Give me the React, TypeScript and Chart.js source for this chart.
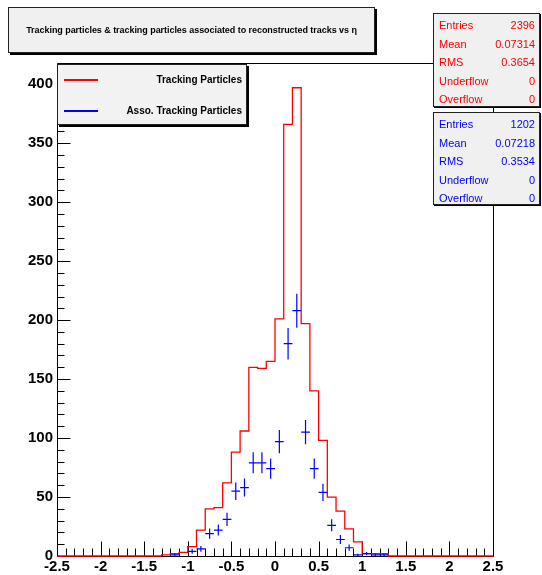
import React, { useEffect, useRef } from "react";
import { Chart, registerables } from "chart.js";

Chart.register(...registerables);

const TITLE = "Tracking particles & tracking particles associated to reconstructed tracks vs η";
const seriesLabels = ["Tracking Particles", "Asso. Tracking Particles"];
const seriesColors = ["#ff0000", "#0000ff"];

const binWidth = 0.1;
// Tracking particles: left edge of each non-empty bin and its count
const trackingBinLow = [-1.3, -1.2, -1.1, -1.0, -0.9, -0.8, -0.7, -0.6, -0.5, -0.4, -0.3, -0.2, -0.1, 0.0, 0.1, 0.2, 0.3, 0.4, 0.5, 0.6, 0.7, 0.8, 0.9, 1.0, 1.1, 1.2];
const trackingCounts = [1, 2, 3, 8, 22, 40, 41, 62, 88, 106, 160, 159, 165, 201, 366, 397, 197, 140, 98, 50, 38, 23, 12, 2, 2, 2];
// Associated tracking particles: bin centre and count
const assocBinCenter = [-1.15, -0.95, -0.85, -0.75, -0.65, -0.55, -0.45, -0.35, -0.25, -0.15, -0.05, 0.05, 0.15, 0.25, 0.35, 0.45, 0.55, 0.65, 0.75, 0.85, 0.95, 1.05, 1.15, 1.25];
const assocCounts = [1, 4, 6, 19, 22, 31, 55, 58, 79, 79, 74, 97, 180, 208, 105, 74, 54, 26, 14, 7, 1, 2, 1, 1];

const xMin = -2.5;
const xMax = 2.5;
const yMin = 0;
const yMax = 418;
const xTickValues = [-2.5, -2, -1.5, -1, -0.5, 0, 0.5, 1, 1.5, 2, 2.5];
const yTickValues = [0, 50, 100, 150, 200, 250, 300, 350, 400];
const xMinorStep = 0.1;
const yMinorStep = 10;

const statNames = ["Entries", "Mean", "RMS", "Underflow", "Overflow"];
const trackingStats = ["2396", "0.07314", "0.3654", "0", "0"];
const assocStats = ["1202", "0.07218", "0.3534", "0", "0"];

const FONT = '"Liberation Sans", Arial, Helvetica, sans-serif';

const framePlugin = {
  id: "rootFrame",
  beforeDatasetsDraw(chart: any) {
    const { ctx, chartArea: a, scales } = chart;
    const xs = scales.x;
    const ys = scales.y;
    const L = Math.round(a.left) + 0.5;
    const R = Math.round(a.right) + 0.5;
    const T = Math.round(a.top) + 0.5;
    const B = Math.round(a.bottom) + 0.5;
    ctx.save();
    ctx.strokeStyle = "#000";
    ctx.lineWidth = 1;
    ctx.beginPath();
    ctx.rect(L, T, R - L, B - T);
    ctx.stroke();
    ctx.beginPath();
    const nx = Math.round((xMax - xMin) / xMinorStep);
    for (let i = 0; i <= nx; i++) {
      const v = xMin + i * xMinorStep;
      const px = Math.round(xs.getPixelForValue(v)) + 0.5;
      const len = i % 5 === 0 ? 15 : 8;
      ctx.moveTo(px, B);
      ctx.lineTo(px, B - len);
    }
    const ny = Math.floor((yMax - yMin) / yMinorStep);
    for (let i = 0; i <= ny; i++) {
      const v = yMin + i * yMinorStep;
      const py = Math.round(ys.getPixelForValue(v)) + 0.5;
      const len = i % 5 === 0 ? 13 : 7;
      ctx.moveTo(L, py);
      ctx.lineTo(L + len, py);
    }
    ctx.stroke();
    ctx.restore();
  },
};

function buildTrackingLine() {
  const pts: any[] = [{ x: xMin, y: 0 }];
  trackingBinLow.forEach((lo, i) => pts.push({ x: lo, y: trackingCounts[i] }));
  const lastHigh = trackingBinLow[trackingBinLow.length - 1] + binWidth;
  pts.push({ x: lastHigh, y: 0 });
  pts.push({ x: xMax, y: 0 });
  return pts;
}

function buildAssocCrosses() {
  const pts: any[] = [];
  assocBinCenter.forEach((c, i) => {
    const n = assocCounts[i];
    const e = Math.sqrt(n);
    pts.push({ x: c - binWidth / 2, y: n }, { x: c + binWidth / 2, y: n }, { x: c, y: null });
    pts.push({ x: c, y: n - e }, { x: c, y: n + e }, { x: c, y: null });
  });
  return pts;
}

function StatsBox({ top, height, color, values }: { top: number; height: number; color: string; values: string[] }) {
  return (
    <div
      style={{
        position: "absolute",
        left: 433,
        top,
        width: 107,
        height,
        boxSizing: "border-box",
        background: "#f0f0f0",
        border: "1px solid #222",
        boxShadow: "1px 1px 0 #000",
        fontFamily: FONT,
        fontSize: 11,
        color,
      }}
    >
      {statNames.map((name, i) => (
        <div
          key={name}
          style={{
            position: "absolute",
            left: 5,
            right: 4,
            top: 4 + i * 18.5,
            height: 14,
            lineHeight: "14px",
            display: "flex",
            justifyContent: "space-between",
          }}
        >
          <span>{name}</span>
          <span>{values[i]}</span>
        </div>
      ))}
    </div>
  );
}

export default function App() {
  const canvasRef = useRef<HTMLCanvasElement | null>(null);

  useEffect(() => {
    const canvas = canvasRef.current;
    if (!canvas) return;
    const chart = new Chart(canvas, {
      type: "line",
      data: {
        datasets: [
          {
            label: seriesLabels[1],
            data: buildAssocCrosses(),
            borderColor: seriesColors[1],
            borderWidth: 1.2,
            pointRadius: 0,
            spanGaps: false,
            fill: false,
            tension: 0,
            clip: 4,
          } as any,
          {
            label: seriesLabels[0],
            data: buildTrackingLine(),
            borderColor: seriesColors[0],
            borderWidth: 1.3,
            pointRadius: 0,
            stepped: true,
            fill: false,
            clip: 4,
          } as any,
        ],
      },
      options: {
        animation: false,
        responsive: false,
        devicePixelRatio: 1,
        parsing: true,
        layout: { padding: { left: 0, top: 63, right: 49, bottom: 0 } },
        plugins: {
          legend: { display: false },
          title: { display: false },
          tooltip: { enabled: false },
        },
        scales: {
          x: {
            type: "linear",
            min: xMin,
            max: xMax,
            grid: { display: false, drawTicks: false },
            border: { display: false },
            afterBuildTicks: (s: any) => {
              s.ticks = xTickValues.map((v) => ({ value: v }));
            },
            afterFit: (s: any) => {
              s.height = 19;
            },
            ticks: {
              autoSkip: false,
              maxRotation: 0,
              minRotation: 0,
              padding: 2,
              color: "#000",
              font: { family: FONT, size: 15, weight: "bold" },
              callback: (v: any) => String(v),
            },
          },
          y: {
            type: "linear",
            min: yMin,
            max: yMax,
            grid: { display: false, drawTicks: false },
            border: { display: false },
            afterBuildTicks: (s: any) => {
              s.ticks = yTickValues.map((v) => ({ value: v }));
            },
            afterFit: (s: any) => {
              s.width = 57;
            },
            ticks: {
              autoSkip: false,
              padding: 4,
              color: "#000",
              font: { family: FONT, size: 15, weight: "bold" },
              callback: (v: any) => String(v),
            },
          },
        },
      } as any,
      plugins: [framePlugin],
    });
    return () => chart.destroy();
  }, []);

  return (
    <div style={{ position: "absolute", left: 0, top: 0, width: 542, height: 575, background: "#fff", overflow: "hidden" }}>
      <canvas ref={canvasRef} width={542} height={575} style={{ position: "absolute", left: 0, top: 0 }} />
      <div
        style={{
          position: "absolute",
          left: 8,
          top: 7,
          width: 367,
          height: 46,
          boxSizing: "border-box",
          background: "#f0f0f0",
          border: "1px solid #222",
          boxShadow: "2px 2px 0 #000",
          fontFamily: FONT,
          fontWeight: "bold",
          fontSize: 9,
          letterSpacing: "-0.05px",
          whiteSpace: "nowrap",
          display: "flex",
          alignItems: "center",
          justifyContent: "center",
          color: "#000",
        }}
      >
        {TITLE}
      </div>
      <StatsBox top={13} height={94} color={seriesColors[0]} values={trackingStats} />
      <StatsBox top={112} height={93} color={seriesColors[1]} values={assocStats} />
      <div
        style={{
          position: "absolute",
          left: 57,
          top: 64,
          width: 190,
          height: 61,
          boxSizing: "border-box",
          background: "#f2f2f2",
          border: "1px solid #222",
          boxShadow: "2px 2px 0 #000",
          fontFamily: FONT,
          fontWeight: "bold",
          fontSize: 10,
          color: "#000",
        }}
      >
        {seriesLabels.map((lab, i) => (
          <div key={lab} style={{ position: "absolute", left: 0, right: 0, top: i === 0 ? 8 : 39, height: 14 }}>
            <div style={{ position: "absolute", left: 6, top: 6, width: 34, height: 1.5, background: seriesColors[i] }} />
            <div style={{ position: "absolute", right: 4, top: 0, lineHeight: "14px" }}>{lab}</div>
          </div>
        ))}
      </div>
    </div>
  );
}
